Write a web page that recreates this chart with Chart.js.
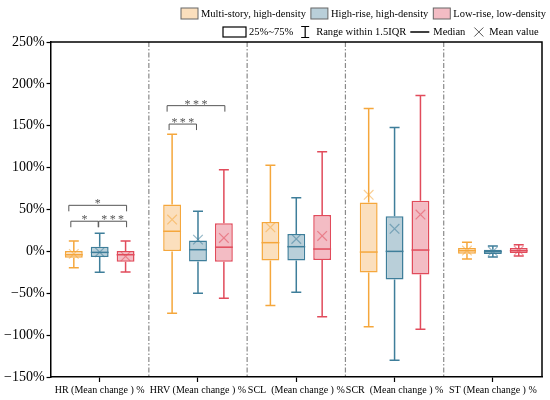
<!DOCTYPE html>
<html>
<head>
<meta charset="utf-8">
<script src="https://cdn.jsdelivr.net/npm/chart.js@4/dist/chart.umd.min.js"></script>
<style>
  html, body { margin: 0; padding: 0; background: #fff; }
  #wrap { width: 550px; height: 400px; }
</style>
</head>
<body>
<div id="wrap"><canvas id="boxChart"></canvas></div>
<script>
const categories = ["HR (Mean change ) %", "HRV (Mean change ) %", "SCL  (Mean change ) %", "SCR  (Mean change ) %", "ST (Mean change ) %"];
const seriesNames = ["Multi-story, high-density", "High-rise, high-density", "Low-rise, low-density"];

// Multi-story, high-density
const multiMin    = [-19.6, -74,  -64.7, -90,   -9.2];
const multiQ1     = [-7.6,   0,   -10.8, -25.2, -2.8];
const multiMedian = [-4,     24,   10.4,  -0.8,  0.8];
const multiQ3     = [0.4,    56,   35,    58.4,  4];
const multiMax    = [12.4,   140,  102.7, 170.6, 10.8];
const multiMean   = [-3,     38,   28.8,  67.5,  1];

// High-rise, high-density
const highMin    = [-25,  -50,  -48.8, -130,  -6.8];
const highQ1     = [-6.8, -12,  -10.8, -33.6, -3.2];
const highMedian = [-1.2,  2,    5.6,   0,    -0.4];
const highQ3     = [5.6,   13,   20.8,  42,    2];
const highMax    = [21.6,  48,   64,    148,   6.4];
const highMean   = [-1,    14,   14.8,  27,    0];

// Low-rise, low-density
const lowMin    = [-24.6, -56,   -78,   -93,   -5.6];
const lowQ1     = [-12.4, -12.4, -10.4, -27.6, -2];
const lowMedian = [-4,     5,     2.8,   1.6,   0.8];
const lowQ3     = [0.4,    33.6,  43.5,  60.3,  4];
const lowMax    = [12.4,   97.5,  119,   186,   8];
const lowMean   = [-6,     16,    18.4,  44,    1];

const yTicks = [-150, -100, -50, 0, 50, 100, 150, 200, 250];

// significance brackets: category, from series, to series, level (%), label
const bracketCat   = [0, 0, 0, 1, 1];
const bracketFrom  = [0, 1, 0, 0, 0];
const bracketTo    = [1, 2, 2, 1, 2];
const bracketLevel = [36, 36, 55, 152, 174];
const bracketLabel = ["*", "***", "*", "***", "***"];

const strokeColors = ["#f5a73c", "#3e7e9a", "#e14b5b"];
const fillColors   = ["#fbdfbd", "#b9cfd9", "#f3bcc4"];
const meanColors   = ["rgba(245,167,60,0.55)", "rgba(62,126,154,0.55)", "rgba(225,75,91,0.55)"];

const stats = [
  { min: multiMin, q1: multiQ1, med: multiMedian, q3: multiQ3, max: multiMax, mean: multiMean },
  { min: highMin,  q1: highQ1,  med: highMedian,  q3: highQ3,  max: highMax,  mean: highMean },
  { min: lowMin,   q1: lowQ1,   med: lowMedian,   q3: lowQ3,   max: lowMax,   mean: lowMean }
];

const serif = "'Liberation Serif', 'DejaVu Serif', serif";

function fmtPct(v) {
  return (v < 0 ? "\u2212" + Math.abs(v) : v) + "%";
}

const boxPlugin = {
  id: "boxParts",
  beforeDatasetsDraw(chart) {
    const { ctx, chartArea, scales } = chart;
    const x = scales.x;
    ctx.save();
    ctx.strokeStyle = "#8a8a8a";
    ctx.lineWidth = 1.2;
    ctx.setLineDash([5, 2, 1.5, 2]);
    for (let i = 0; i < categories.length - 1; i++) {
      const px = (x.getPixelForValue(i) + x.getPixelForValue(i + 1)) / 2;
      ctx.beginPath();
      ctx.moveTo(px, chartArea.top);
      ctx.lineTo(px, chartArea.bottom);
      ctx.stroke();
    }
    ctx.restore();
  },
  afterDatasetsDraw(chart) {
    const { ctx, scales } = chart;
    const y = scales.y;
    ctx.save();
    stats.forEach((s, d) => {
      const meta = chart.getDatasetMeta(d);
      meta.data.forEach((el, i) => {
        const cx = el.x;
        const w = el.width;
        const cap = w * 0.28;
        ctx.strokeStyle = strokeColors[d];
        ctx.lineWidth = 1.5;
        // whiskers
        ctx.beginPath();
        ctx.moveTo(cx, y.getPixelForValue(s.q3[i]));
        ctx.lineTo(cx, y.getPixelForValue(s.max[i]));
        ctx.moveTo(cx - cap, y.getPixelForValue(s.max[i]));
        ctx.lineTo(cx + cap, y.getPixelForValue(s.max[i]));
        ctx.moveTo(cx, y.getPixelForValue(s.q1[i]));
        ctx.lineTo(cx, y.getPixelForValue(s.min[i]));
        ctx.moveTo(cx - cap, y.getPixelForValue(s.min[i]));
        ctx.lineTo(cx + cap, y.getPixelForValue(s.min[i]));
        ctx.stroke();
        // median
        const my = y.getPixelForValue(s.med[i]);
        ctx.beginPath();
        ctx.moveTo(cx - w / 2, my);
        ctx.lineTo(cx + w / 2, my);
        ctx.stroke();
        // mean cross
        const ay = y.getPixelForValue(s.mean[i]);
        const r = 4.8;
        ctx.strokeStyle = meanColors[d];
        ctx.lineWidth = 1.2;
        ctx.beginPath();
        ctx.moveTo(cx - r, ay - r);
        ctx.lineTo(cx + r, ay + r);
        ctx.moveTo(cx + r, ay - r);
        ctx.lineTo(cx - r, ay + r);
        ctx.stroke();
      });
    });

    // significance brackets
    ctx.strokeStyle = "#555";
    ctx.fillStyle = "#555";
    ctx.lineWidth = 1;
    ctx.font = "12px " + serif;
    ctx.textAlign = "center";
    ctx.textBaseline = "alphabetic";
    bracketCat.forEach((c, k) => {
      const a = chart.getDatasetMeta(bracketFrom[k]).data[c].x;
      const b = chart.getDatasetMeta(bracketTo[k]).data[c].x;
      const inner = bracketTo[k] - bracketFrom[k] === 1;
      const x1 = a - (inner && bracketFrom[k] === 0 ? 3 : 5) + (bracketFrom[k] === 1 ? 4 : 0);
      const x2 = b + (bracketTo[k] === 1 ? -1.5 : 1);
      const by = y.getPixelForValue(bracketLevel[k]);
      ctx.beginPath();
      ctx.moveTo(x1, by + 6);
      ctx.lineTo(x1, by);
      ctx.lineTo(x2, by);
      ctx.lineTo(x2, by + 6);
      ctx.stroke();
      ctx.fillText(bracketLabel[k].split("").join("\u2009"), (x1 + x2) / 2, by + 2);
    });
    ctx.restore();
  },
  afterDraw(chart) {
    const { ctx, chartArea } = chart;
    ctx.save();
    // frame
    ctx.strokeStyle = "#000";
    ctx.lineWidth = 1.5;
    ctx.beginPath();
    ctx.moveTo(chartArea.left, chartArea.top);
    ctx.lineTo(chartArea.right, chartArea.top);
    ctx.lineTo(chartArea.right, chartArea.bottom);
    ctx.stroke();

    // legend row 1
    ctx.font = "10.5px " + serif;
    ctx.textBaseline = "middle";
    ctx.textAlign = "left";
    let lx = 181;
    const ly = 13.5;
    seriesNames.forEach((name, d) => {
      ctx.fillStyle = fillColors[d];
      ctx.fillRect(lx, ly - 5.5, 17, 11);
      ctx.strokeStyle = "#666";
      ctx.lineWidth = 1;
      ctx.strokeRect(lx, ly - 5.5, 17, 11);
      ctx.fillStyle = "#000";
      ctx.fillText(name, lx + 20, ly + 0.5);
      lx += 20 + ctx.measureText(name).width + 5;
    });

    // legend row 2
    const ry = 32;
    lx = 223;
    ctx.strokeStyle = "#000";
    ctx.lineWidth = 1.2;
    ctx.strokeRect(lx, ry - 5, 23, 10);
    lx += 26;
    ctx.fillStyle = "#000";
    ctx.fillText("25%~75%", lx, ry + 0.5);
    lx += ctx.measureText("25%~75%").width + 8;
    ctx.beginPath();
    ctx.moveTo(lx, ry - 5.5); ctx.lineTo(lx + 8, ry - 5.5);
    ctx.moveTo(lx + 4, ry - 5.5); ctx.lineTo(lx + 4, ry + 5.5);
    ctx.moveTo(lx, ry + 5.5); ctx.lineTo(lx + 8, ry + 5.5);
    ctx.stroke();
    lx += 15;
    ctx.fillText("Range within 1.5IQR", lx, ry + 0.5);
    lx += ctx.measureText("Range within 1.5IQR").width + 4;
    ctx.lineWidth = 1.5;
    ctx.beginPath();
    ctx.moveTo(lx, ry); ctx.lineTo(lx + 19, ry);
    ctx.stroke();
    lx += 23;
    ctx.fillText("Median", lx, ry + 0.5);
    lx += ctx.measureText("Median").width + 9;
    ctx.strokeStyle = "#555";
    ctx.lineWidth = 1;
    ctx.beginPath();
    ctx.moveTo(lx, ry - 4.5); ctx.lineTo(lx + 9, ry + 4.5);
    ctx.moveTo(lx + 9, ry - 4.5); ctx.lineTo(lx, ry + 4.5);
    ctx.stroke();
    lx += 15;
    ctx.fillText("Mean value", lx, ry + 0.5);
    ctx.restore();
  }
};

const datasets = stats.map((s, d) => ({
  label: seriesNames[d],
  data: categories.map((c, i) => [s.q1[i], s.q3[i]]),
  backgroundColor: fillColors[d],
  borderColor: strokeColors[d],
  borderWidth: 1.5,
  borderSkipped: false,
  categoryPercentage: 0.79,
  barPercentage: 0.69
}));

new Chart(document.getElementById("boxChart"), {
  type: "bar",
  data: { labels: categories, datasets: datasets },
  plugins: [boxPlugin],
  options: {
    responsive: true,
    maintainAspectRatio: false,
    animation: false,
    layout: { padding: { top: 42, right: 8, left: 2, bottom: 2 } },
    plugins: {
      legend: { display: false },
      tooltip: { enabled: false }
    },
    scales: {
      x: {
        grid: { display: true, offset: false, drawOnChartArea: false, drawTicks: true, tickLength: 5, tickColor: "#000", tickWidth: 1.2 },
        border: { display: true, color: "#000", width: 1.5 },
        ticks: {
          color: "#000",
          font: { family: serif, size: 10 },
          maxRotation: 0,
          autoSkip: false,
          padding: 2
        }
      },
      y: {
        min: -150,
        max: 250,
        afterBuildTicks(axis) {
          axis.ticks = yTicks.map(v => ({ value: v }));
        },
        grid: { display: true, drawOnChartArea: false, drawTicks: true, tickLength: 4, tickColor: "#000", tickWidth: 1.2 },
        border: { display: true, color: "#000", width: 1.5 },
        ticks: {
          color: "#000",
          font: { family: serif, size: 14 },
          padding: 2,
          callback: v => fmtPct(v)
        }
      }
    }
  }
});
</script>
</body>
</html>
